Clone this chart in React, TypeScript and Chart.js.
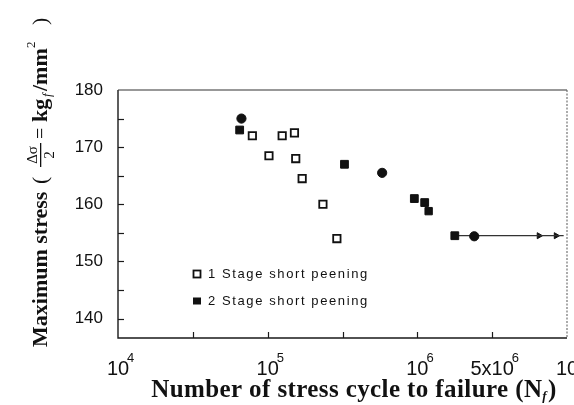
import { useEffect, useRef } from 'react';
import { Chart, registerables } from 'chart.js';

Chart.register(...registerables);

// 1 Stage short peening (open squares)
const STAGE1_CYCLES = [79000, 102000, 125000, 151000, 154000, 170000, 234000, 290000];
const STAGE1_STRESS = [172, 168.5, 172, 172.5, 168, 164.5, 160, 154];
// 2 Stage short peening (filled marks)
const STAGE2_CYCLES = [66800, 65000, 326000, 582000, 955000, 1120000, 1190000, 1780000, 2400000];
const STAGE2_STRESS = [175, 173, 167, 165.5, 161, 160.3, 158.8, 154.5, 154.4];
// run-out line with arrows
const RUNOUT_CYCLES = [1780000, 9500000];
const RUNOUT_STRESS = [154.5, 154.5];
const ARROW_CYCLES = [6500000, 8450000];
const ARROW_STRESS = [154.5, 154.5];

const X_TICKS = [10000, 31623, 100000, 316228, 1000000, 3162278, 10000000];
const X_TICK_BASE = ['10', '', '10', '', '10', '5x10', '10'];
const X_TICK_EXP = ['4', '', '5', '', '6', '6', '7'];
const Y_TICKS = [140, 145, 150, 155, 160, 165, 170, 175, 180];
const Y_MIN = 136.6;
const Y_MAX = 180;
const LEGEND_LABELS = ['1 Stage short peening', '2 Stage short peening'];
const X_TITLE = 'Number of stress cycle to failure (N';
const Y_TITLE = 'Maximum stress';

const INK = '#111';

const decor = {
  id: 'decor',
  beforeDatasetsDraw(chart: any) {
    const { ctx, chartArea: a, scales } = chart;
    const xs = scales.x;
    const ys = scales.y;
    ctx.save();
    ctx.strokeStyle = '#1a1a1a';
    ctx.lineWidth = 1.4;
    ctx.beginPath();
    ctx.moveTo(a.left, a.top);
    ctx.lineTo(a.left, a.bottom);
    ctx.lineTo(a.right, a.bottom);
    ctx.stroke();
    ctx.lineWidth = 1.1;
    ctx.strokeStyle = '#333';
    ctx.beginPath();
    ctx.moveTo(a.left, a.top);
    ctx.lineTo(a.right, a.top);
    ctx.stroke();
    ctx.setLineDash([2, 1.5]);
    ctx.strokeStyle = '#666';
    ctx.beginPath();
    ctx.moveTo(a.right, a.top);
    ctx.lineTo(a.right, a.bottom);
    ctx.stroke();
    ctx.setLineDash([]);
    ctx.strokeStyle = '#1a1a1a';
    ctx.lineWidth = 1.2;
    Y_TICKS.forEach((v) => {
      if (v >= Y_MAX) return;
      const y = Math.round(ys.getPixelForValue(v)) + 0.5;
      ctx.beginPath();
      ctx.moveTo(a.left, y);
      ctx.lineTo(a.left + 6, y);
      ctx.stroke();
    });
    X_TICKS.slice(1, -1).forEach((v) => {
      const x = Math.round(xs.getPixelForValue(v)) + 0.5;
      ctx.beginPath();
      ctx.moveTo(x, a.bottom);
      ctx.lineTo(x, a.bottom - 6);
      ctx.stroke();
    });
    ctx.restore();
  },
  afterDraw(chart: any) {
    const { ctx, chartArea: a, scales } = chart;
    const xs = scales.x;
    ctx.save();
    ctx.fillStyle = INK;
    // x tick labels
    X_TICKS.forEach((v, i) => {
      const base = X_TICK_BASE[i];
      if (!base) return;
      const x = xs.getPixelForValue(v);
      ctx.font = '20px "Liberation Sans"';
      ctx.textBaseline = 'alphabetic';
      ctx.textAlign = 'center';
      const w = ctx.measureText(base).width;
      ctx.fillText(base, x, 375);
      ctx.font = '13px "Liberation Sans"';
      ctx.textAlign = 'left';
      ctx.fillText(X_TICK_EXP[i], x + w / 2 - 2, 362);
    });

    // legend
    const lx = a.left + 79;
    const ly = [a.top + 184, a.top + 211];
    ctx.lineWidth = 1.8;
    ctx.strokeStyle = INK;
    ctx.strokeRect(lx - 3.5, ly[0] - 3.5, 7, 7);
    ctx.fillRect(lx - 4, ly[1] - 3.5, 8, 7);
    ctx.font = '13px "Liberation Sans"';
    (ctx as any).letterSpacing = '1.6px';
    ctx.textAlign = 'left';
    ctx.textBaseline = 'middle';
    LEGEND_LABELS.forEach((t, i) => ctx.fillText(t, lx + 11, ly[i]));
    (ctx as any).letterSpacing = '0px';

    // x title
    ctx.textBaseline = 'alphabetic';
    ctx.font = 'bold 25px "Liberation Serif"';
    (ctx as any).letterSpacing = '0.4px';
    const tw = ctx.measureText(X_TITLE).width;
    ctx.font = 'bold italic 13px "Liberation Serif"';
    const fw = ctx.measureText('f').width;
    ctx.font = 'bold 25px "Liberation Serif"';
    const pw = ctx.measureText(')').width;
    const total = tw + fw + 1 + pw;
    const cx = 354;
    let xx = cx - total / 2;
    ctx.textAlign = 'left';
    ctx.fillText(X_TITLE, xx, 397);
    xx += tw;
    ctx.font = 'bold italic 13px "Liberation Serif"';
    ctx.fillText('f', xx, 400);
    xx += fw + 1;
    ctx.font = 'bold 25px "Liberation Serif"';
    ctx.fillText(')', xx, 397);
    (ctx as any).letterSpacing = '0px';

    // y title (rotated)
    ctx.save();
    ctx.translate(47, 347);
    ctx.rotate(-Math.PI / 2);
    ctx.textAlign = 'left';
    ctx.textBaseline = 'alphabetic';
    ctx.font = 'bold 22px "Liberation Serif"';
    ctx.fillText(Y_TITLE, 0, 0);
    ctx.font = '22px "Liberation Serif"';
    ctx.fillText('(', 163, 0);
    // fraction
    ctx.font = '15px "Liberation Serif"';
    ctx.textAlign = 'center';
    ctx.fillText('\u0394\u03c3', 192, -10);
    ctx.fillText('2', 192, 7);
    ctx.fillRect(180, -7, 24, 1.3);
    ctx.textAlign = 'left';
    ctx.font = '20px "Liberation Serif"';
    ctx.fillText('=', 208, 0);
    ctx.font = 'bold 22px "Liberation Serif"';
    ctx.fillText('kg', 225, 0);
    ctx.font = 'italic 13px "Liberation Serif"';
    ctx.fillText('f', 250, 4);
    ctx.font = 'bold 22px "Liberation Serif"';
    ctx.fillText('/mm', 256, 0);
    ctx.font = '13px "Liberation Serif"';
    ctx.fillText('2', 299, -12);
    ctx.font = '22px "Liberation Serif"';
    ctx.fillText(')', 322, 0);
    ctx.restore();

    ctx.restore();
  },
};

export default function App() {
  const ref = useRef<HTMLCanvasElement | null>(null);

  useEffect(() => {
    document.body.style.margin = '0';
    const canvas = ref.current;
    if (!canvas) return;
    const chart = new Chart(canvas, {
      type: 'scatter',
      data: {
        datasets: [
          {
            label: LEGEND_LABELS[0],
            data: STAGE1_CYCLES.map((n, i) => ({ x: n, y: STAGE1_STRESS[i] })),
            pointStyle: 'rect',
            pointRadius: 5.2,
            pointBackgroundColor: '#fff',
            pointBorderColor: INK,
            pointBorderWidth: 1.8,
            showLine: false,
          },
          {
            label: LEGEND_LABELS[1],
            data: STAGE2_CYCLES.map((n, i) => ({ x: n, y: STAGE2_STRESS[i] })),
            pointStyle: ['circle', 'rect', 'rect', 'circle', 'rect', 'rect', 'rect', 'rect', 'circle'],
            pointRadius: [4.6, 5.5, 5.5, 4.6, 5.5, 5.5, 5.2, 5.5, 4.6],
            pointBackgroundColor: INK,
            pointBorderColor: INK,
            pointBorderWidth: 1,
            showLine: false,
          },
          {
            label: 'run-out',
            data: RUNOUT_CYCLES.map((n, i) => ({ x: n, y: RUNOUT_STRESS[i] })),
            showLine: true,
            borderColor: '#333',
            borderWidth: 1.2,
            pointRadius: 0,
          },
          {
            label: 'arrows',
            data: ARROW_CYCLES.map((n, i) => ({ x: n, y: ARROW_STRESS[i] })),
            pointStyle: 'triangle',
            rotation: 90,
            pointRadius: 3.5,
            pointBackgroundColor: INK,
            pointBorderColor: INK,
            showLine: false,
          },
        ],
      } as any,
      options: {
        animation: false,
        responsive: false,
        layout: { padding: { left: 0, right: 5, top: 90, bottom: 0 } },
        plugins: { legend: { display: false }, tooltip: { enabled: false } },
        scales: {
          x: {
            type: 'logarithmic',
            min: 10000,
            max: 10000000,
            grid: { display: false, drawTicks: false },
            border: { display: false },
            ticks: { display: false },
            afterBuildTicks: (s: any) => {
              s.ticks = X_TICKS.map((v) => ({ value: v }));
            },
            afterFit: (s: any) => {
              s.height = 67;
            },
          },
          y: {
            type: 'linear',
            min: Y_MIN,
            max: Y_MAX,
            grid: { display: false, drawTicks: false },
            border: { display: false },
            afterBuildTicks: (s: any) => {
              s.ticks = Y_TICKS.map((v) => ({ value: v }));
            },
            ticks: {
              padding: 15,
              color: INK,
              font: { family: '"Liberation Sans"', size: 17 },
              callback: (v: any) => (Number(v) % 10 === 0 ? String(v) : ''),
            },
            afterFit: (s: any) => {
              s.width = 118;
            },
          },
        },
      } as any,
      plugins: [decor],
    });
    return () => chart.destroy();
  }, []);

  return (
    <div style={{ position: 'absolute', left: 0, top: 0, width: 574, height: 405, background: '#fff' }}>
      <canvas ref={ref} width={574} height={405} style={{ width: 574, height: 405 }} />
    </div>
  );
}
